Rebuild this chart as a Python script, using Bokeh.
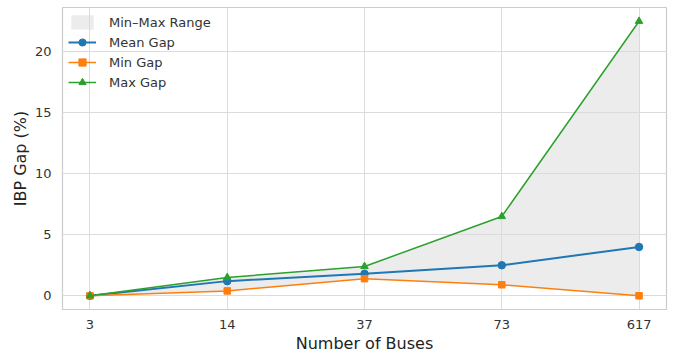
from bokeh.plotting import figure
from bokeh.models import FixedTicker, Range1d, Legend, LegendItem
from bokeh.embed import file_html
from bokeh.resources import INLINE

buses = ["3", "14", "37", "73", "617"]
mean_gap = [0.0, 1.2, 1.8, 2.5, 4.0]
min_gap = [0.0, 0.4, 1.4, 0.9, 0.0]
max_gap = [0.0, 1.5, 2.4, 6.5, 22.5]
y_ticks = [0, 5, 10, 15, 20]

xs = list(range(len(buses)))
FONT = "DejaVu Sans"

p = figure(width=670, height=349, output_backend="svg", toolbar_location=None,
           x_range=Range1d(-0.2, len(buses) - 1 + 0.2),
           y_range=Range1d(-1.125, 23.625),
           min_border_left=62, min_border_right=4, min_border_top=7, min_border_bottom=40)
p.frame_width = 604
p.frame_height = 302

p.background_fill_color = "white"
p.outline_line_color = "#cccccc"
p.outline_line_width = 1.2

p.xgrid.grid_line_color = "#dcdcdc"
p.ygrid.grid_line_color = "#dcdcdc"
p.xgrid.grid_line_width = 1
p.ygrid.grid_line_width = 1

p.xaxis.ticker = FixedTicker(ticks=xs)
p.xaxis.major_label_overrides = {i: b for i, b in enumerate(buses)}
p.yaxis.ticker = FixedTicker(ticks=y_ticks)

for ax in (p.xaxis[0], p.yaxis[0]):
    ax.axis_line_color = None
    ax.major_tick_line_color = None
    ax.minor_tick_line_color = None
    ax.major_tick_out = 6
    ax.major_label_text_font = FONT
    ax.major_label_text_font_size = "13px"
    ax.major_label_text_color = "#333333"
    ax.axis_label_text_font = FONT
    ax.axis_label_text_font_size = "16px"
    ax.axis_label_text_font_style = "normal"
    ax.axis_label_text_color = "#222222"

p.xaxis.axis_label = "Number of Buses"
p.yaxis.axis_label = "IBP Gap (%)"
p.xaxis.major_label_standoff = 4
p.xaxis.axis_label_standoff = 2
p.yaxis.major_label_standoff = 5
p.yaxis.axis_label_standoff = 2

band = p.varea(x=xs, y1=min_gap, y2=max_gap, fill_color="#d9d9d9", fill_alpha=0.5)

l1 = p.line(xs, mean_gap, line_color="#1f77b4", line_width=2)
m1 = p.scatter(xs, mean_gap, marker="circle", size=7.5, fill_color="#1f77b4", line_color="#1f77b4")
l2 = p.line(xs, min_gap, line_color="#ff7f0e", line_width=1.5)
m2 = p.scatter(xs, min_gap, marker="square", size=6.5, fill_color="#ff7f0e", line_color="#ff7f0e")
l3 = p.line(xs, max_gap, line_color="#2ca02c", line_width=1.5)
m3 = p.scatter(xs, max_gap, marker="triangle", size=7.5, fill_color="#2ca02c", line_color="#2ca02c")

legend = Legend(items=[
    LegendItem(label="Min\u2013Max Range", renderers=[band]),
    LegendItem(label="Mean Gap", renderers=[l1, m1]),
    LegendItem(label="Min Gap", renderers=[l2, m2]),
    LegendItem(label="Max Gap", renderers=[l3, m3]),
], location="top_left")
legend.label_text_font = FONT
legend.label_text_font_size = "13px"
legend.label_text_color = "#333333"
legend.background_fill_alpha = 0.0
legend.border_line_color = None
legend.spacing = 2
legend.padding = 5
legend.margin = 6
legend.glyph_width = 28
legend.glyph_height = 18
legend.label_standoff = 13
legend.label_height = 18
p.add_layout(legend)

open("out.html", "w").write(file_html(p, INLINE))
